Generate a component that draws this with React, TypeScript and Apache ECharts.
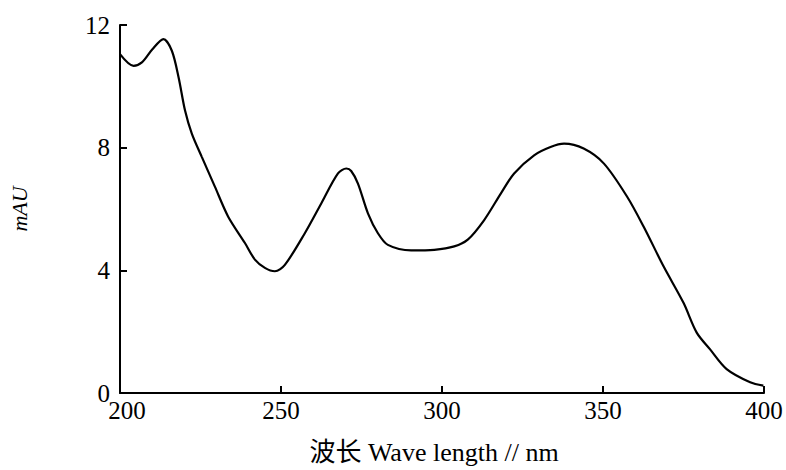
import React, { useEffect, useRef } from "react";
import * as echarts from "echarts";

const wavelengths = [200, 204.2, 206.8, 210, 213.5, 216.1, 218.2, 220.2, 222.3, 225.4, 229.5, 233.6, 238.8, 241.9, 245, 248.1, 251.2, 257.4, 262.5, 267.7, 270.3, 271.8, 273.9, 277, 280.1, 283.2, 290.4, 297.6, 303.8, 308, 313.1, 318.3, 322.4, 328.6, 333.7, 337.9, 344, 350.3, 357.5, 362.6, 368.8, 375, 379.1, 383.2, 388.4, 395.7, 399.8];
const absorbance = [11.05, 10.67, 10.78, 11.2, 11.54, 11.16, 10.29, 9.21, 8.46, 7.7, 6.72, 5.75, 4.89, 4.35, 4.08, 3.97, 4.18, 5.21, 6.18, 7.16, 7.32, 7.24, 6.83, 5.86, 5.21, 4.83, 4.65, 4.67, 4.78, 5.0, 5.64, 6.51, 7.16, 7.75, 8.02, 8.13, 7.97, 7.48, 6.4, 5.43, 4.13, 2.94, 1.97, 1.43, 0.78, 0.35, 0.24];
const xTicks = [200, 250, 300, 350, 400];
const yTicks = [0, 4, 8, 12];

export default function App() {
  const ref = useRef<HTMLDivElement>(null);
  useEffect(() => {
    if (!ref.current) return;
    const chart = echarts.init(ref.current, null, { renderer: "svg" });
    const font = "'Liberation Serif', 'Times New Roman', serif";
    chart.setOption({
      animation: false,
      backgroundColor: "#ffffff",
      grid: { left: 118, right: 22, top: 25, bottom: 76, containLabel: false },
      xAxis: {
        type: "value",
        min: xTicks[0],
        max: xTicks[xTicks.length - 1],
        interval: 50,
        name: "波长 Wave length // nm",
        nameLocation: "middle",
        nameGap: 46,
        nameTextStyle: {
          fontFamily: "'Liberation Serif', 'Noto Sans CJK SC', serif",
          fontSize: 26,
          color: "#000",
          padding: [0, 16, 0, 0],
        },
        axisLine: { lineStyle: { color: "#000", width: 2 } },
        axisTick: { inside: true, length: 7, lineStyle: { color: "#000", width: 2 } },
        axisLabel: {
          color: "#000",
          fontFamily: font,
          fontSize: 25,
          margin: 5,
          formatter: (v: number) => (v === xTicks[0] ? "{a|" + v + "}" : String(v)),
          rich: { a: { fontFamily: font, fontSize: 25, color: "#000", padding: [0, 0, 0, 14] } },
        },
        splitLine: { show: false },
      },
      yAxis: {
        type: "value",
        min: yTicks[0],
        max: yTicks[yTicks.length - 1],
        interval: 4,
        name: "mAU",
        nameLocation: "middle",
        nameGap: 90,
        nameRotate: 90,
        nameTextStyle: { fontFamily: font, fontStyle: "italic", fontSize: 22, color: "#000" },
        axisLine: { lineStyle: { color: "#000", width: 2 } },
        axisTick: { inside: true, length: 7, lineStyle: { color: "#000", width: 2 } },
        axisLabel: { color: "#000", fontFamily: font, fontSize: 25, margin: 10 },
        splitLine: { show: false },
      },
      series: [
        {
          type: "line",
          data: wavelengths.map((w, i) => [w, absorbance[i]]),
          showSymbol: false,
          smooth: 0.3,
          lineStyle: { color: "#000", width: 2.2 },
        },
      ],
    });
    return () => chart.dispose();
  }, []);
  return (
    <div
      ref={ref}
      style={{ position: "absolute", left: 0, top: 0, width: 786, height: 470 }}
    />
  );
}
